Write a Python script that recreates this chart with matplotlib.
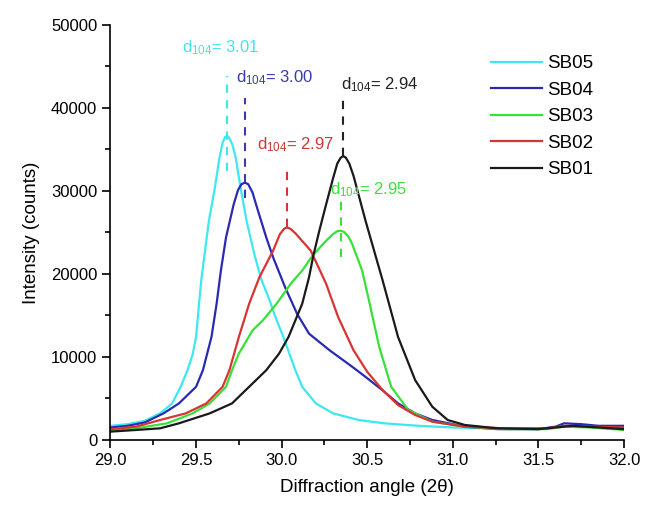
import numpy as np
import matplotlib
matplotlib.use('Agg')
import matplotlib.pyplot as plt

plt.rcParams['font.family'] = ['Liberation Sans', 'DejaVu Sans']
plt.rcParams['mathtext.fontset'] = 'custom'
plt.rcParams['mathtext.rm'] = 'Liberation Sans'
plt.rcParams['mathtext.it'] = 'Liberation Sans'

# datos (2theta, cuentas)
x_sb05 = [29.0, 29.1, 29.2, 29.29, 29.36, 29.41, 29.45, 29.48, 29.5, 29.515, 29.53, 29.55, 29.575,
          29.61, 29.635, 29.655, 29.67, 29.68, 29.69, 29.71, 29.73, 29.76, 29.795, 29.84, 29.88,
          29.93, 29.96, 30.01, 30.08, 30.12, 30.2, 30.3, 30.45, 30.6, 30.8, 31.0, 31.3, 31.55, 31.62,
          31.7, 31.8, 32.0]
y_sb05 = [1700, 1900, 2300, 3200, 4400, 6400, 8400, 10300, 12400, 15800, 19200, 22400, 26400,
          30400, 33800, 35800, 36500, 36600, 36500, 35700, 34200, 30400, 26400, 22400, 19400,
          16800, 15000, 12400, 8400, 6400, 4400, 3200, 2400, 2000, 1700, 1500, 1350, 1400, 1600,
          1700, 1600, 1600]

x_sb04 = [29.0, 29.1, 29.2, 29.31, 29.4, 29.5, 29.54, 29.59, 29.62, 29.645, 29.675, 29.72, 29.745,
          29.765, 29.785, 29.805, 29.83, 29.85, 29.91, 29.95, 30.02, 30.09, 30.16, 30.28, 30.4,
          30.49, 30.6, 30.68, 30.78, 30.88, 31.07, 31.26, 31.5, 31.6, 31.65, 31.75, 31.85, 32.0]
y_sb04 = [1500, 1700, 2100, 3200, 4400, 6400, 8400, 12400, 16400, 20400, 24400, 28400, 30100,
          30800, 31000, 30800, 29800, 28400, 24400, 22000, 18400, 15200, 12800, 10800, 9000,
          7600, 5800, 4400, 3200, 2400, 1600, 1300, 1300, 1600, 2000, 1900, 1700, 1700]

x_sb03 = [29.0, 29.15, 29.33, 29.48, 29.58, 29.675, 29.71, 29.75, 29.83, 29.89, 29.97, 30.06,
          30.12, 30.18, 30.26, 30.3, 30.325, 30.345, 30.365, 30.39, 30.41, 30.47, 30.51, 30.57,
          30.64, 30.74, 30.88, 31.07, 31.3, 31.55, 31.65, 31.8, 32.0]
y_sb03 = [1100, 1400, 2000, 3200, 4400, 6400, 8400, 10400, 13200, 14400, 16400, 19000,
          20400, 22200, 24000, 24800, 25150, 25200, 25050, 24500, 23700, 20400, 16800, 11200,
          6400, 3600, 2200, 1600, 1300, 1300, 1600, 1500, 1200]

x_sb02 = [29.0, 29.15, 29.29, 29.44, 29.56, 29.655, 29.695, 29.75, 29.81, 29.87, 29.95, 29.99,
          30.015, 30.03, 30.05, 30.08, 30.17, 30.26, 30.33, 30.42, 30.5, 30.59, 30.68, 30.78, 30.88,
          31.07, 31.3, 31.55, 31.65, 31.8, 32.0]
y_sb02 = [1300, 1600, 2400, 3200, 4400, 6400, 8400, 12400, 16400, 19600, 22800, 24800,
          25450, 25600, 25450, 24900, 22800, 18800, 14800, 10800, 8200, 6000, 4200, 3000, 2200,
          1600, 1400, 1400, 1700, 1600, 1500]

x_sb01 = [29.0, 29.15, 29.29, 29.4, 29.58, 29.71, 29.81, 29.91, 29.985, 30.04, 30.08, 30.12,
          30.16, 30.185, 30.22, 30.26, 30.3, 30.325, 30.345, 30.36, 30.375, 30.395, 30.42, 30.49,
          30.54, 30.59, 30.68, 30.78, 30.88, 30.97, 31.07, 31.26, 31.5, 31.6, 31.7, 31.85, 32.0]
y_sb01 = [1000, 1200, 1400, 2000, 3200, 4400, 6400, 8400, 10400, 12400, 14400, 16400,
          19600, 22200, 25200, 28400, 31500, 33300, 34000, 34200, 34000, 33300, 31800, 26400,
          22800, 19200, 12400, 7200, 4000, 2400, 1800, 1400, 1300, 1500, 1700, 1500, 1300]

muestras = ['SB05', 'SB04', 'SB03', 'SB02', 'SB01']
d104 = ['3.01', '3.00', '2.95', '2.97', '2.94']
colores = ['#3ee8f0', '#2a2ab0', '#38e038', '#d83434', '#1a1a1a']
colores_txt = ['#45e3ea', '#3a3aae', '#3ede3e', '#cc3838', '#222222']
series = [(x_sb05, y_sb05), (x_sb04, y_sb04), (x_sb03, y_sb03), (x_sb02, y_sb02), (x_sb01, y_sb01)]

# posicion de las etiquetas (x, y) y extremos de las lineas punteadas
txt_pos = [(29.645, 47200), (29.96, 43600), (30.51, 30200), (30.08, 35600), (30.57, 42800)]
linea_sup = [43800, 41200, 28800, 32600, 41200]
linea_inf = [32400, 29200, 22000, 25600, 34200]

fig = plt.figure(figsize=(6.46, 5.08), dpi=100)
ax = fig.add_axes([0.171, 0.134, 0.795, 0.817])

for i, (xs, ys) in enumerate(series):
    ax.plot(xs, ys, color=colores[i], lw=1.6, label=muestras[i], solid_joinstyle='round')

for i, (xs, ys) in enumerate(series):
    xp = xs[int(np.argmax(ys))]
    ax.plot([xp, xp], [linea_inf[i], linea_sup[i]], color=colores_txt[i], lw=1.5,
            dashes=(4, 3.5))
    ax.text(txt_pos[i][0], txt_pos[i][1], r'd$_{104}$= ' + d104[i], color=colores_txt[i],
            fontsize=12, ha='center', va='center')

ax.set_xlim(29.0, 32.0)
ax.set_ylim(0, 50000)
ax.set_xticks(np.arange(29.0, 32.01, 0.5))
ax.set_xticks(np.arange(29.0, 32.01, 0.25), minor=True)
ax.set_yticks(np.arange(0, 50001, 10000))
ax.set_yticks(np.arange(0, 50001, 5000), minor=True)
ax.xaxis.set_major_formatter(matplotlib.ticker.FormatStrFormatter('%.1f'))
ax.tick_params(which='major', direction='out', length=6, width=1.2, labelsize=12)
ax.tick_params(which='minor', direction='out', length=3.5, width=1.2)
for lado in ['top', 'right']:
    ax.spines[lado].set_visible(False)
for lado in ['left', 'bottom']:
    ax.spines[lado].set_linewidth(1.2)

ax.set_xlabel('Diffraction angle (2θ)', fontsize=13.5, labelpad=8)
ax.set_ylabel('Intensity (counts)', fontsize=13.5, labelpad=8)

leg = ax.legend(loc='upper right', bbox_to_anchor=(0.955, 0.945), frameon=False, fontsize=13.5,
                handlelength=2.7, labelspacing=0.5, handletextpad=0.3, borderaxespad=0)

plt.savefig('out.png', dpi=100)
